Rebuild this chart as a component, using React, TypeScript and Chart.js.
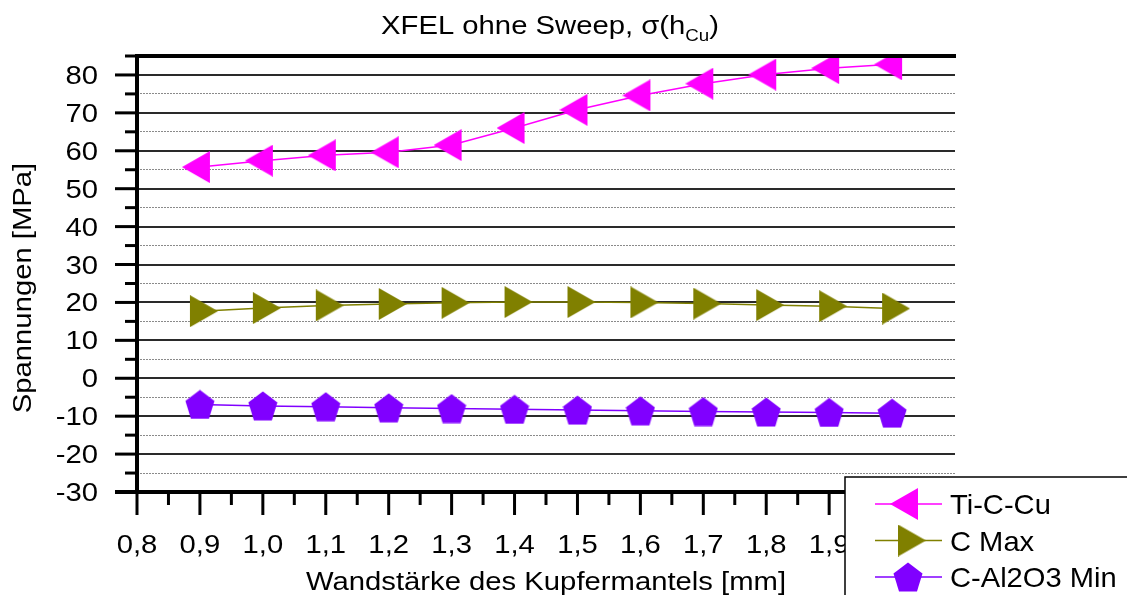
import { useEffect, useRef } from 'react';
import { Chart, registerables } from 'chart.js';

Chart.register(...registerables);

// Wall thickness of the copper jacket [mm]
const wallThickness = [0.9, 1.0, 1.1, 1.2, 1.3, 1.4, 1.5, 1.6, 1.7, 1.8, 1.9, 2.0];

// Stresses [MPa]
const tiCCu = [55.7, 57.4, 58.8, 59.6, 61.5, 66.0, 70.8, 74.6, 77.7, 80.1, 81.8, 82.8];
const cMax = [17.7, 18.5, 19.2, 19.6, 19.9, 20.1, 20.1, 20.0, 19.7, 19.3, 19.0, 18.4];
const cAl2O3Min = [-6.9, -7.3, -7.5, -7.8, -8.0, -8.2, -8.4, -8.6, -8.8, -8.9, -9.0, -9.2];

const seriesNames = ['Ti-C-Cu', 'C Max', 'C-Al2O3 Min'];
const seriesColors = ['#ff00ff', '#808000', '#8000ff'];

const xTickLabels = ['0,8', '0,9', '1,0', '1,1', '1,2', '1,3', '1,4', '1,5', '1,6', '1,7', '1,8', '1,9', '2,0', '2,1'];
const yTickLabels = ['-30', '-20', '-10', '0', '10', '20', '30', '40', '50', '60', '70', '80'];

const titleMain = 'XFEL ohne Sweep, \u03c3(h';
const titleSub = 'Cu';
const titleEnd = ')';
const xTitle = 'Wandst\u00e4rke des Kupfermantels [mm]';
const yTitle = 'Spannungen [MPa]';

const FONT = '"Liberation Sans", Arial, Helvetica, sans-serif';
const SX = 1.17;

function makeTriangle(color: string, dir: 'left' | 'right') {
  const c = document.createElement('canvas');
  c.width = 36;
  c.height = 32;
  const g = c.getContext('2d')!;
  g.fillStyle = color;
  g.beginPath();
  if (dir === 'left') {
    g.moveTo(0, 16);
    g.lineTo(28, 0);
    g.lineTo(28, 32);
  } else {
    g.moveTo(8, 0);
    g.lineTo(36, 16);
    g.lineTo(8, 32);
  }
  g.closePath();
  g.fill();
  return c;
}

function makePentagon(color: string) {
  const c = document.createElement('canvas');
  c.width = 30;
  c.height = 30;
  const g = c.getContext('2d')!;
  g.fillStyle = color;
  g.beginPath();
  const rx = 15.25;
  const ry = 16.03;
  for (let k = 0; k < 5; k++) {
    const a = ((-90 + 72 * k) * Math.PI) / 180;
    const px = 15 + Math.cos(a) * rx;
    const py = 15 + 1.53 + Math.sin(a) * ry;
    if (k === 0) g.moveTo(px, py);
    else g.lineTo(px, py);
  }
  g.closePath();
  g.fill();
  return c;
}

function drawText(
  ctx: CanvasRenderingContext2D,
  str: string,
  x: number,
  y: number,
  size: number,
  align: CanvasTextAlign,
  sx = SX
) {
  ctx.save();
  ctx.font = `${size}px ${FONT}`;
  ctx.textBaseline = 'alphabetic';
  ctx.textAlign = align;
  ctx.fillStyle = '#000';
  ctx.translate(x, y);
  ctx.scale(sx, 1);
  ctx.fillText(str, 0, 0);
  ctx.restore();
}

const axesPlugin = {
  id: 'originAxes',
  afterDraw(chart: any) {
    const ctx: CanvasRenderingContext2D = chart.ctx;
    const { left, right, top, bottom } = chart.chartArea;
    const xs = chart.scales.x;
    const ys = chart.scales.y;

    ctx.save();
    ctx.strokeStyle = '#000';
    ctx.lineCap = 'butt';

    // frame: top border, left and bottom axes
    ctx.lineWidth = 4;
    ctx.beginPath();
    ctx.moveTo(left - 1, top);
    ctx.lineTo(right + 1, top);
    ctx.stroke();
    ctx.beginPath();
    ctx.moveTo(left, top - 2);
    ctx.lineTo(left, bottom);
    ctx.stroke();
    ctx.beginPath();
    ctx.moveTo(left - 22, bottom);
    ctx.lineTo(right + 1, bottom);
    ctx.stroke();

    // ticks
    ctx.lineWidth = 3;
    for (const t of xs.ticks) {
      const v = t.value;
      const major = Math.abs(v * 10 - Math.round(v * 10)) < 1e-6;
      const px = xs.getPixelForValue(v);
      ctx.beginPath();
      ctx.moveTo(px, bottom);
      ctx.lineTo(px, bottom + (major ? 23 : 13));
      ctx.stroke();
    }
    for (const t of ys.ticks) {
      const v = t.value;
      const major = Math.abs(v % 10) < 1e-6;
      const py = ys.getPixelForValue(v);
      ctx.beginPath();
      ctx.moveTo(left, py);
      ctx.lineTo(left - (major ? 22 : 12), py);
      ctx.stroke();
    }
    ctx.restore();

    // tick labels
    for (const lab of xTickLabels) {
      const v = parseFloat(lab.replace(',', '.'));
      drawText(ctx, lab, xs.getPixelForValue(v), bottom + 61, 25, 'center');
    }
    for (const lab of yTickLabels) {
      const v = parseFloat(lab);
      drawText(ctx, lab, left - 39, ys.getPixelForValue(v) + 9, 25, 'right');
    }

    // chart title with subscript
    ctx.save();
    ctx.font = `25px ${FONT}`;
    const w1 = ctx.measureText(titleMain).width * SX;
    const w3 = ctx.measureText(titleEnd).width * SX;
    ctx.font = `16px ${FONT}`;
    const w2 = ctx.measureText(titleSub).width * SX;
    ctx.restore();
    const tx = 550 - (w1 + w2 + w3) / 2;
    drawText(ctx, titleMain, tx, 34, 25, 'left');
    drawText(ctx, titleSub, tx + w1, 41, 16, 'left');
    drawText(ctx, titleEnd, tx + w1 + w2, 34, 25, 'left');

    // axis titles
    drawText(ctx, xTitle, (left + right) / 2, 590, 25, 'center');
    ctx.save();
    ctx.translate(31, 288);
    ctx.rotate(-Math.PI / 2);
    drawText(ctx, yTitle, 0, 0, 25, 'center');
    ctx.restore();

    // legend box
    const bx = 845;
    const by = 477;
    ctx.save();
    ctx.fillStyle = '#fff';
    ctx.fillRect(bx, by, 400, 200);
    ctx.strokeStyle = '#000';
    ctx.lineWidth = 1.5;
    ctx.strokeRect(bx, by, 400, 200);
    chart.data.datasets.forEach((ds: any, i: number) => {
      const ry = by + 27 + i * 36.5;
      ctx.strokeStyle = ds.borderColor;
      ctx.lineWidth = 1.5;
      ctx.beginPath();
      ctx.moveTo(bx + 30, ry);
      ctx.lineTo(bx + 97, ry);
      ctx.stroke();
      const img = ds.pointStyle as HTMLCanvasElement;
      ctx.drawImage(img, bx + 63 - img.width / 2, ry - img.height / 2);
      drawText(ctx, ds.label, bx + 105, ry + 10, 28, 'left', 1.04);
    });
    ctx.restore();
  },
};

export default function App() {
  const ref = useRef<HTMLCanvasElement>(null);

  useEffect(() => {
    document.body.style.margin = '0';
    const markers = [
      makeTriangle(seriesColors[0], 'left'),
      makeTriangle(seriesColors[1], 'right'),
      makePentagon(seriesColors[2]),
    ];
    const values = [tiCCu, cMax, cAl2O3Min];
    const chart = new Chart(ref.current!, {
      type: 'line',
      data: {
        datasets: values.map((vals, i) => ({
          label: seriesNames[i],
          data: wallThickness.map((x, j) => ({ x, y: vals[j] })),
          borderColor: seriesColors[i],
          backgroundColor: seriesColors[i],
          borderWidth: 1.5,
          pointStyle: markers[i],
          pointRadius: 16,
          tension: 0,
          clip: 0,
        })),
      },
      options: {
        responsive: false,
        animation: false,
        events: [],
        layout: { padding: { top: 56, right: 172, left: 0, bottom: 0 } },
        plugins: {
          legend: { display: false },
          title: { display: false },
          tooltip: { enabled: false },
        },
        scales: {
          x: {
            type: 'linear',
            min: 0.8,
            max: 2.1,
            afterFit: (s: any) => {
              s.height = 103;
            },
            ticks: { display: false, stepSize: 0.05 },
            grid: { display: false },
            border: { display: false },
          },
          y: {
            type: 'linear',
            min: -30,
            max: 85,
            afterFit: (s: any) => {
              s.width = 137;
            },
            ticks: { display: false, stepSize: 5 },
            grid: {
              drawTicks: false,
              color: (c: any) => {
                const v = c.tick ? c.tick.value : 0;
                if (v <= -30 || v >= 85) return 'rgba(0,0,0,0)';
                return v % 10 === 0 ? '#2a2a2a' : '#8a8a8a';
              },
              lineWidth: (c: any) => {
                const v = c.tick ? c.tick.value : 0;
                return v % 10 === 0 ? 2 : 1;
              },
            },
            border: {
              display: false,
              dash: (c: any) => {
                const v = c.tick ? c.tick.value : 0;
                return v % 10 === 0 ? [] : [2, 1];
              },
            },
          },
        },
      },
      plugins: [axesPlugin],
    } as any);
    return () => chart.destroy();
  }, []);

  return (
    <div style={{ position: 'fixed', left: 0, top: 0, width: 1127, height: 595, background: '#fff' }}>
      <canvas ref={ref} width={1127} height={595} style={{ display: 'block', width: 1127, height: 595 }} />
    </div>
  );
}
